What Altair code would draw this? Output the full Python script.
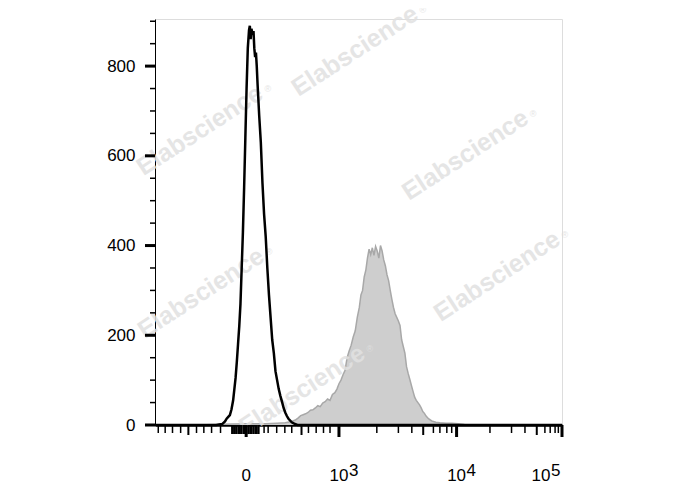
import altair as alt
import pandas as pd

# ---- data (x in display channels 0..1000 of the biexponential axis, y = count) ----
black_ch = [0, 150, 165, 172, 176, 180, 184, 188, 192, 195, 198, 201, 204, 207, 210, 213, 216, 219,
            222, 225, 228, 231, 233, 235, 237, 240, 242, 244, 246, 248, 250, 252, 256, 260, 264, 268,
            272, 276, 280, 284, 288, 292, 296, 300, 304, 308, 312, 316, 320, 324, 328, 332, 336, 342,
            350, 1000]
black_count = [0, 0, 2, 8, 14, 18, 22, 35, 55, 80, 105, 140, 180, 220, 270, 350, 430, 530,
               640, 750, 840, 880, 890, 860, 883, 870, 878, 840, 820, 830, 800, 760, 690, 630, 540, 470,
               420, 350, 290, 240, 190, 160, 120, 100, 80, 65, 52, 38, 28, 20, 14, 10, 6, 3,
               0, 0]

gray_ch = [100, 150, 190, 230, 270, 300, 320, 335, 345, 352, 358, 364, 370, 376, 382, 388, 394, 400,
           406, 412, 418, 424, 430, 436, 442, 447, 452, 457, 462, 467, 472, 477, 482, 487, 492, 497,
           502, 506, 510, 514, 518, 522, 526, 530, 534, 538, 542, 546, 550, 554, 558, 562, 566, 570,
           574, 578, 582, 586, 590, 594, 598, 602, 606, 610, 614, 618, 622, 626, 630, 634, 638, 642,
           646, 650, 654, 658, 662, 666, 672, 680, 690, 700, 715, 730, 745, 760, 780]
gray_count = [0, 1, 2, 3, 3, 4, 5, 8, 11, 16, 21, 23, 25, 28, 33, 34, 38, 43,
              41, 49, 52, 58, 55, 68, 72, 80, 92, 100, 112, 122, 150, 165, 178, 196, 210, 240,
              262, 290, 300, 330, 345, 372, 392, 380, 395, 378, 398, 388, 372, 400, 388, 368, 355, 335,
              322, 300, 280, 262, 248, 240, 232, 222, 190, 175, 160, 130, 115, 102, 88, 75, 62, 55,
              50, 45, 38, 30, 26, 20, 14, 9, 6, 5, 4, 4, 3, 1, 0]

# ---- axis ticks (display channel positions) and labels ----
x_major_ticks = [224, 452, 741, 1000]
x_long_ticks = [82, 360, 659, 938]
x_cluster_ticks = [190, 195, 200, 206, 212, 218, 230, 236, 242, 248, 254]
x_minor_ticks = [8, 25, 43, 63, 102, 120, 139, 161, 268, 278, 299, 319, 336,
                 377, 396, 414, 430, 545, 598, 631, 684, 700, 717, 729,
                 823, 876, 909, 958, 971, 983, 991]
x_label_base = ["0", "10", "10", "10"]
x_label_sup = ["", "3", "4", "5"]

y_major_ticks = [0, 200, 400, 600, 800]
y_minor_ticks = [50, 100, 150, 250, 300, 350, 450, 500, 550, 650, 700, 750, 850, 900]

wm_ch = [491, 110, 762, 113, 840, 361]
wm_count = [834, 657, 602, 294, 332, 78]

FONT = "Liberation Sans"
W, H = 407, 406

black_df = pd.DataFrame({"ch": black_ch, "count": black_count})
gray_df = pd.DataFrame({"ch": gray_ch, "count": gray_count})
lab_df = pd.DataFrame({"ch": x_major_ticks, "base": x_label_base, "sup": x_label_sup})
wm_df = pd.DataFrame({"ch": wm_ch, "count": wm_count})

xs = alt.Scale(domain=[0, 1000], nice=False, zero=False)
ys = alt.Scale(domain=[0, 905], nice=False)

x_axis = alt.Axis(ticks=False, labels=False, title=None, grid=False,
                  domainColor="black", domainWidth=2.5)
y_axis = alt.Axis(values=y_major_ticks, ticks=False, title=None, grid=False,
                  labelFont=FONT, labelFontSize=17, labelColor="black", labelPadding=20,
                  domainColor="black", domainWidth=1)

gray_area = alt.Chart(gray_df).mark_area(color="#cecece", interpolate="linear").encode(
    x=alt.X("ch:Q", scale=xs, axis=x_axis),
    y=alt.Y("count:Q", scale=ys, axis=y_axis),
)
gray_line = alt.Chart(gray_df).mark_line(color="#a8a8a8", strokeWidth=1.5).encode(
    x=alt.X("ch:Q", scale=xs), y=alt.Y("count:Q", scale=ys))

wm = alt.Chart(wm_df).mark_text(text="Elabscience", font=FONT, fontSize=25, fontWeight="bold",
                                color="#e1e1e1", opacity=0.85, angle=327,
                                align="center", baseline="middle").encode(
    x=alt.X("ch:Q", scale=xs), y=alt.Y("count:Q", scale=ys))
wm_r = alt.Chart(wm_df).mark_text(text="®", font=FONT, fontSize=9, color="#e1e1e1", opacity=0.85,
                                  dx=68, dy=-41, align="center", baseline="middle").encode(
    x=alt.X("ch:Q", scale=xs), y=alt.Y("count:Q", scale=ys))

black_line = alt.Chart(black_df).mark_line(color="black", strokeWidth=2.5).encode(
    x=alt.X("ch:Q", scale=xs), y=alt.Y("count:Q", scale=ys))


def xticks(values, length, width):
    return alt.Chart(pd.DataFrame({"ch": values})).mark_rule(
        color="black", strokeWidth=width).encode(
        x=alt.X("ch:Q", scale=xs), y=alt.value(H), y2=alt.value(H + length))


def yticks(values, length, width):
    return alt.Chart(pd.DataFrame({"v": values})).mark_rule(
        color="black", strokeWidth=width).encode(
        y=alt.Y("v:Q", scale=ys), x=alt.value(0), x2=alt.value(-length))


tick_layers = [
    xticks(x_minor_ticks, 8, 1.5),
    xticks(x_cluster_ticks, 9, 2.5),
    xticks(x_long_ticks, 10, 2),
    xticks(x_major_ticks, 12, 3),
    yticks(y_minor_ticks, 5, 1.5),
    yticks(y_major_ticks, 10, 3),
]

lab_main = alt.Chart(lab_df).transform_filter("datum.ch < 1000")
base_txt = lab_main.mark_text(font=FONT, fontSize=17, color="black", align="center",
                              baseline="alphabetic").encode(
    x=alt.X("ch:Q", scale=xs), y=alt.value(H + 56), text="base:N")
sup_txt = lab_main.mark_text(font=FONT, fontSize=17, color="black", align="left", dx=10,
                             baseline="alphabetic").encode(
    x=alt.X("ch:Q", scale=xs), y=alt.value(H + 51), text="sup:N")
lab_last = alt.Chart(lab_df).transform_filter("datum.ch >= 1000")
base_last = lab_last.mark_text(font=FONT, fontSize=17, color="black", align="center", dx=-21,
                               baseline="alphabetic").encode(
    x=alt.X("ch:Q", scale=xs), y=alt.value(H + 56), text="base:N")
sup_last = lab_last.mark_text(font=FONT, fontSize=17, color="black", align="left", dx=-11,
                              baseline="alphabetic").encode(
    x=alt.X("ch:Q", scale=xs), y=alt.value(H + 51), text="sup:N")

chart = alt.layer(gray_area, gray_line, wm, wm_r, black_line, *tick_layers,
                  base_txt, sup_txt, base_last, sup_last).properties(
    width=W, height=H,
    autosize=alt.AutoSizeParams(type="none"),
    padding={"left": 147, "top": 11, "right": 118, "bottom": 57},
).configure_view(stroke="#8a8a8a", strokeWidth=1.5).configure(background="white")

chart.save("out.html", embed_options={"renderer": "svg", "actions": False})
